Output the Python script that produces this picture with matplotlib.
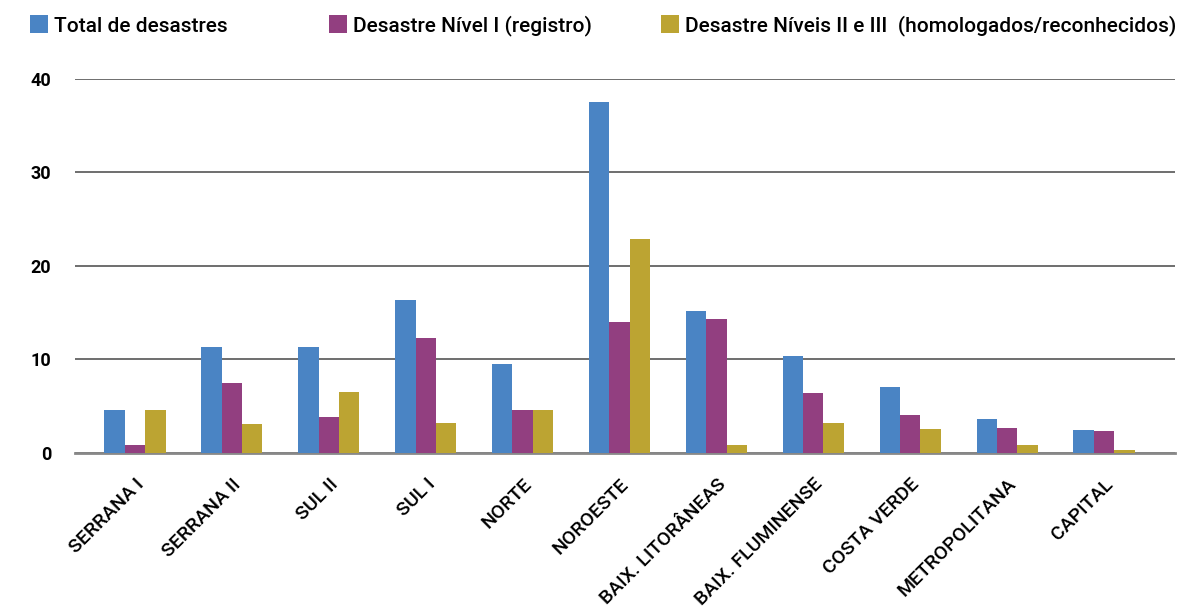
import matplotlib.pyplot as plt
import numpy as np

regioes = ['SERRANA I', 'SERRANA II', 'SUL II', 'SUL I', 'NORTE', 'NOROESTE',
           'BAIX. LITORÂNEAS', 'BAIX. FLUMINENSE', 'COSTA VERDE',
           'METROPOLITANA', 'CAPITAL']
total = [4.6, 11.3, 11.3, 16.4, 9.5, 37.5, 15.2, 10.4, 7.0, 3.6, 2.5]
nivel_1 = [0.85, 7.5, 3.85, 12.3, 4.6, 14.0, 14.3, 6.4, 4.1, 2.7, 2.35]
nivel_2_3 = [4.6, 3.1, 6.5, 3.2, 4.6, 22.9, 0.85, 3.2, 2.6, 0.85, 0.3]

series = [
    ('Total de desastres', total, '#4A84C4'),
    ('Desastre Nível I (registro)', nivel_1, '#923F80'),
    ('Desastre Níveis II e III  (homologados/reconhecidos)', nivel_2_3, '#BCA432'),
]

plt.rcParams['font.family'] = ['Roboto', 'DejaVu Sans']

fig = plt.figure(figsize=(11.89, 6.12), dpi=100)
ax = fig.add_axes([0.063, 0.26, 0.925, 0.611])

x = np.arange(len(regioes))
w = 0.21
handles = []
for i, (nome, vals, cor) in enumerate(series):
    b = ax.bar(x + (i - 1) * w, vals, w, color=cor, label=nome, zorder=3)
    handles.append(b)

ax.set_ylim(0, 40)
ax.set_xlim(-0.62, 10.73)
ax.set_yticks([0, 10, 20, 30, 40])
ax.yaxis.grid(True, color='#555555', linewidth=1.2, zorder=0)
ax.tick_params(axis='both', length=0)
ax.tick_params(axis='y', labelsize=13, pad=17)
for lab in ax.get_yticklabels():
    lab.set_fontweight('bold')
for s in ['top', 'right', 'left']:
    ax.spines[s].set_visible(False)
ax.spines['bottom'].set_color('#888888')
ax.spines['bottom'].set_linewidth(2)

ax.set_xticks(x)
ax.set_xticklabels(regioes, rotation=45, ha='right', rotation_mode='anchor',
                   fontsize=14, fontweight='medium')
ax.tick_params(axis='x', pad=16)

# legenda: tres blocos separados no topo
posicoes = [0.0252, 0.2767, 0.556]
for h, px in zip(handles, posicoes):
    fig.legend(handles=[h], loc='upper left', bbox_to_anchor=(px, 0.975),
               frameon=False, fontsize=15, prop={'weight': 'medium', 'size': 15},
               handlelength=0.85, handleheight=0.96,
               handletextpad=0.29, borderaxespad=0, borderpad=0)

fig.savefig('out.png', dpi=100)
